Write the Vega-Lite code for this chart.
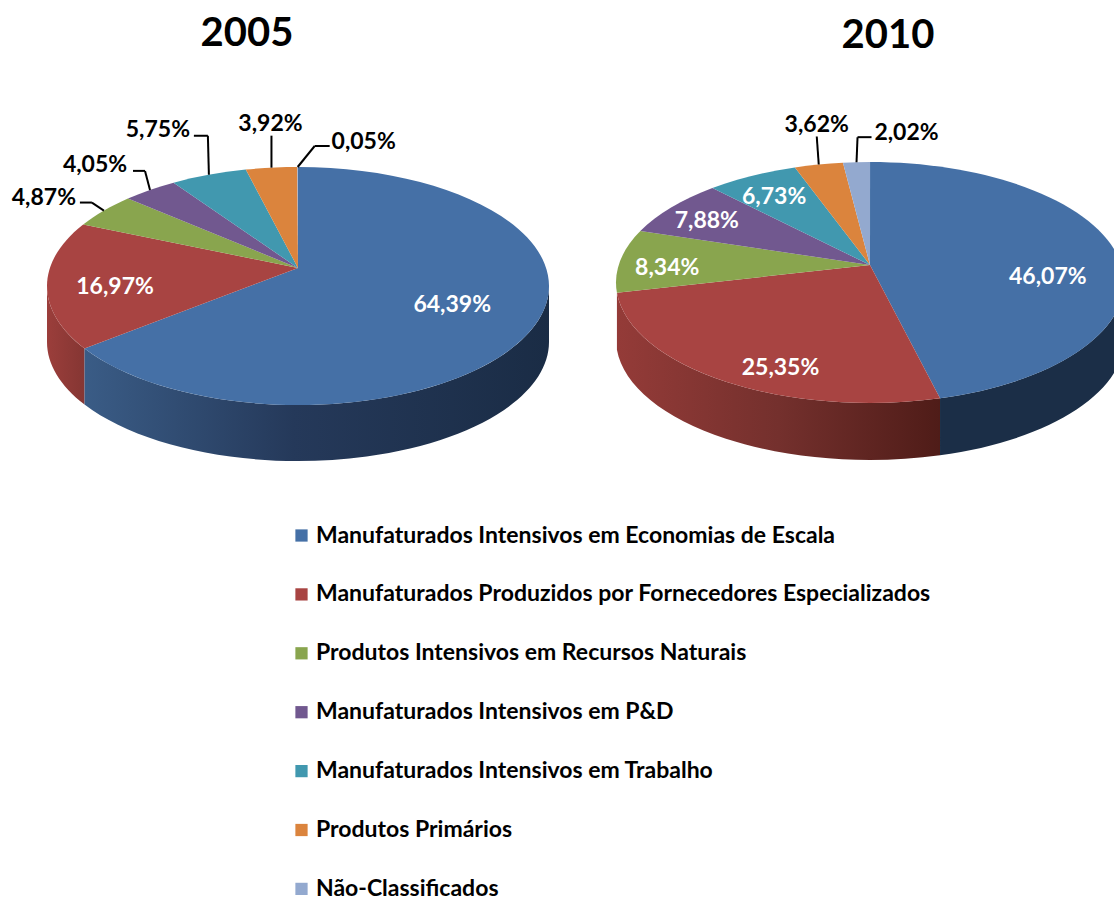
{
"$schema":"https://vega.github.io/schema/vega-lite/v6.json",
"width":1114,"height":897,"padding":0,"autosize":{"type":"none"},
"background":"white",
"config":{"view":{"stroke":null}},
"data":{"values":[
{"year":2005,"order":1,"category":"Manufaturados Intensivos em Economias de Escala","share":64.39},
{"year":2005,"order":2,"category":"Manufaturados Produzidos por Fornecedores Especializados","share":16.97},
{"year":2005,"order":3,"category":"Produtos Intensivos em Recursos Naturais","share":4.87},
{"year":2005,"order":4,"category":"Manufaturados Intensivos em P&D","share":4.05},
{"year":2005,"order":5,"category":"Manufaturados Intensivos em Trabalho","share":5.75},
{"year":2005,"order":6,"category":"Produtos Primários","share":3.92},
{"year":2005,"order":7,"category":"Não-Classificados","share":0.05},
{"year":2010,"order":1,"category":"Manufaturados Intensivos em Economias de Escala","share":46.07},
{"year":2010,"order":2,"category":"Manufaturados Produzidos por Fornecedores Especializados","share":25.35},
{"year":2010,"order":3,"category":"Produtos Intensivos em Recursos Naturais","share":8.34},
{"year":2010,"order":4,"category":"Manufaturados Intensivos em P&D","share":7.88},
{"year":2010,"order":5,"category":"Manufaturados Intensivos em Trabalho","share":6.73},
{"year":2010,"order":6,"category":"Produtos Primários","share":3.62},
{"year":2010,"order":7,"category":"Não-Classificados","share":2.02}
]},
"transform":[
{"stack":"share","groupby":["year"],"sort":[{"field":"order","order":"ascending"}],"as":["s0","s1"]},
{"calculate":"datum.year==2005?298:870","as":"cx"},
{"calculate":"datum.year==2005?268:265","as":"ay"},
{"calculate":"datum.year==2005?251:254","as":"ra"},
{"calculate":"datum.year==2005?119:120.5","as":"rb"},
{"calculate":"datum.year==2005?-18:-17.5","as":"c0"},
{"calculate":"datum.year==2005?56:57","as":"depth"},
{"calculate":"2*PI*datum.s0/100","as":"th0"},
{"calculate":"2*PI*datum.s1/100","as":"th1"},
{"calculate":"(datum.th0+datum.th1)/2","as":"thm"},
{"calculate":"sin(datum.th0)","as":"dx0"},
{"calculate":"-cos(datum.th0)*0.48","as":"dy0"},
{"calculate":"sin(datum.th1)","as":"dx1"},
{"calculate":"-cos(datum.th1)*0.48","as":"dy1"},
{"calculate":"sin(datum.thm)","as":"dxm"},
{"calculate":"-cos(datum.thm)*0.48","as":"dym"},
{"calculate":"datum.c0*datum.c0/(datum.rb*datum.rb)-1","as":"qc"},
{"calculate":"datum.dx0*datum.dx0/(datum.ra*datum.ra)+datum.dy0*datum.dy0/(datum.rb*datum.rb)","as":"qa0"},
{"calculate":"2*datum.c0*datum.dy0/(datum.rb*datum.rb)","as":"qb0"},
{"calculate":"(-datum.qb0+sqrt(datum.qb0*datum.qb0-4*datum.qa0*datum.qc))/(2*datum.qa0)","as":"t0"},
{"calculate":"datum.dx1*datum.dx1/(datum.ra*datum.ra)+datum.dy1*datum.dy1/(datum.rb*datum.rb)","as":"qa1"},
{"calculate":"2*datum.c0*datum.dy1/(datum.rb*datum.rb)","as":"qb1"},
{"calculate":"(-datum.qb1+sqrt(datum.qb1*datum.qb1-4*datum.qa1*datum.qc))/(2*datum.qa1)","as":"t1"},
{"calculate":"datum.dxm*datum.dxm/(datum.ra*datum.ra)+datum.dym*datum.dym/(datum.rb*datum.rb)","as":"qam"},
{"calculate":"2*datum.c0*datum.dym/(datum.rb*datum.rb)","as":"qbm"},
{"calculate":"(-datum.qbm+sqrt(datum.qbm*datum.qbm-4*datum.qam*datum.qc))/(2*datum.qam)","as":"tm"},
{"calculate":"round(datum.t0*datum.dx0*100)/100","as":"x0"},
{"calculate":"round(datum.t0*datum.dy0*100)/100","as":"y0"},
{"calculate":"round(datum.t1*datum.dx1*100)/100","as":"x1"},
{"calculate":"round(datum.t1*datum.dy1*100)/100","as":"y1"},
{"calculate":"datum.y0<-datum.c0?datum.ra:datum.x0","as":"wx0"},
{"calculate":"datum.y0<-datum.c0?-datum.c0:datum.y0","as":"wy0"},
{"calculate":"datum.y1<-datum.c0?-datum.ra:datum.x1","as":"wx1"},
{"calculate":"datum.y1<-datum.c0?-datum.c0:datum.y1","as":"wy1"},
{"calculate":"datum.ra+','+datum.rb+' 0 0'","as":"warc"},
{"calculate":"datum.ra+','+datum.rb+' 0 '+(datum.share>50?'1':'0')","as":"arc"},
{"calculate":"'M0,0 L'+datum.x0+','+datum.y0+' A'+datum.arc+' 1 '+datum.x1+','+datum.y1+' Z'","as":"topPath"},
{"calculate":"'M'+datum.wx0+','+datum.wy0+' A'+datum.warc+' 1 '+datum.wx1+','+datum.wy1+' L'+datum.wx1+','+(datum.wy1+datum.depth)+' A'+datum.warc+' 0 '+datum.wx0+','+(datum.wy0+datum.depth)+' Z'","as":"wallPath"},
{"calculate":"datum.cx+datum.tm*datum.dxm","as":"ex"},
{"calculate":"datum.ay+datum.tm*datum.dym","as":"ey"},
{"calculate":"[[[-84,-20],[68,1],[-60,-14,-12,-8,-24,-8],[-55,-26,-5,-19,-17,-19],[-51,-46,-1,-39,-15,-39],[-1,-45,0,-32,0,-32],[66,-27,17,-21,32,-21]],[[-67,25],[58,-14],[47,6],[35,12],[22,20],[-2,-41,-2,-28,-2,-28],[50,-31,1,-25,15,-25]]][datum.year==2005?0:1][datum.order-1]","as":"place"},
{"calculate":"datum.ex+datum.place[0]","as":"lx"},
{"calculate":"datum.ey+datum.place[1]","as":"ly"},
{"calculate":"length(datum.place)>2","as":"outside"},
{"calculate":"replace(format(datum.share,'.2f'),'.',',')+'%'","as":"label"},
{"calculate":"datum.ex+datum.place[2]","as":"bx"},
{"calculate":"datum.ey+datum.place[3]","as":"by"},
{"calculate":"datum.ex+datum.place[4]","as":"fx"},
{"calculate":"datum.ey+datum.place[5]","as":"fy"},
{"calculate":"datum.year==2005?247:888","as":"tx"},
{"calculate":"datum.year==2005?34:36","as":"ty"},
{"calculate":"''+datum.year","as":"yearText"}
],
"layer":[
{"transform":[{"filter":"datum.year==2005 && datum.order==2"}],
 "mark":{"type":"point","filled":true,"opacity":1,"strokeWidth":0,"size":4,
  "fill":{"gradient":"linear","x1":0,"x2":1,"y1":0,"y2":0,"stops":[{"offset":0,"color":"#9b3e3b"},{"offset":1,"color":"#853633"}]}},
 "encoding":{"x":{"field":"cx","type":"quantitative","axis":null,"scale":{"domain":[0,1114],"range":[0,1114],"nice":false,"zero":false}},
  "y":{"field":"ay","type":"quantitative","axis":null,"scale":{"domain":[0,897],"range":[0,897],"nice":false,"zero":false}},
  "shape":{"field":"wallPath","type":"nominal","scale":null}}},
{"transform":[{"filter":"datum.year==2005 && datum.order==1"}],
 "mark":{"type":"point","filled":true,"opacity":1,"strokeWidth":0,"size":4,
  "fill":{"gradient":"linear","x1":0,"x2":1,"y1":0,"y2":0,"stops":[{"offset":0,"color":"#3a5c86"},{"offset":0.45,"color":"#25395a"},{"offset":1,"color":"#1a2c45"}]}},
 "encoding":{"x":{"field":"cx","type":"quantitative"},"y":{"field":"ay","type":"quantitative"},
  "shape":{"field":"wallPath","type":"nominal","scale":null}}},
{"transform":[{"filter":"datum.year==2010 && datum.order==2"}],
 "mark":{"type":"point","filled":true,"opacity":1,"strokeWidth":0,"size":4,
  "fill":{"gradient":"linear","x1":0,"x2":1,"y1":0,"y2":0,"stops":[{"offset":0,"color":"#943b38"},{"offset":0.5,"color":"#74302d"},{"offset":1,"color":"#4f1c18"}]}},
 "encoding":{"x":{"field":"cx","type":"quantitative"},"y":{"field":"ay","type":"quantitative"},
  "shape":{"field":"wallPath","type":"nominal","scale":null}}},
{"transform":[{"filter":"datum.year==2010 && datum.order==1"}],
 "mark":{"type":"point","filled":true,"opacity":1,"strokeWidth":0,"size":4,"fill":"#1b2e47"},
 "encoding":{"x":{"field":"cx","type":"quantitative"},"y":{"field":"ay","type":"quantitative"},
  "shape":{"field":"wallPath","type":"nominal","scale":null}}},
{"mark":{"type":"point","filled":true,"opacity":1,"strokeWidth":0,"size":4},
 "encoding":{"x":{"field":"cx","type":"quantitative"},"y":{"field":"ay","type":"quantitative"},
  "shape":{"field":"topPath","type":"nominal","scale":null},
  "color":{"field":"category","type":"nominal",
   "scale":{"domain":["Manufaturados Intensivos em Economias de Escala","Manufaturados Produzidos por Fornecedores Especializados","Produtos Intensivos em Recursos Naturais","Manufaturados Intensivos em P&D","Manufaturados Intensivos em Trabalho","Produtos Primários","Não-Classificados"],
    "range":["#4570A6","#A84442","#89A54E","#71588F","#4198AF","#DB843D","#93A9CF"]},
   "legend":{"title":null,"orient":"none","legendX":290,"legendY":524,"symbolType":"square","symbolSize":150,"symbolStrokeWidth":0,"labelFont":"Lato","labelFontWeight":"bold","labelFontSize":23,"labelColor":"black","labelLimit":800,"labelOffset":3,"rowPadding":34.9}}}},
{"transform":[{"filter":"datum.outside"}],
 "mark":{"type":"rule","color":"black","strokeWidth":2},
 "encoding":{"x":{"field":"ex","type":"quantitative"},"y":{"field":"ey","type":"quantitative"},"x2":{"field":"bx"},"y2":{"field":"by"}}},
{"transform":[{"filter":"datum.outside"}],
 "mark":{"type":"rule","color":"black","strokeWidth":2},
 "encoding":{"x":{"field":"bx","type":"quantitative"},"y":{"field":"by","type":"quantitative"},"x2":{"field":"fx"},"y2":{"field":"fy"}}},
{"mark":{"type":"text","font":"Lato","fontWeight":"bold","fontSize":23,"align":"center","baseline":"middle","dy":1.5},
 "encoding":{"x":{"field":"lx","type":"quantitative"},"y":{"field":"ly","type":"quantitative"},"text":{"field":"label"},
  "color":{"condition":{"test":"datum.outside","value":"black"},"value":"white"}}},
{"transform":[{"filter":"datum.order==1"}],
 "mark":{"type":"text","font":"Lato","fontWeight":"bold","fontSize":40,"align":"center","baseline":"middle","color":"black"},
 "encoding":{"x":{"field":"tx","type":"quantitative"},"y":{"field":"ty","type":"quantitative"},"text":{"field":"yearText"}}}
]
}
